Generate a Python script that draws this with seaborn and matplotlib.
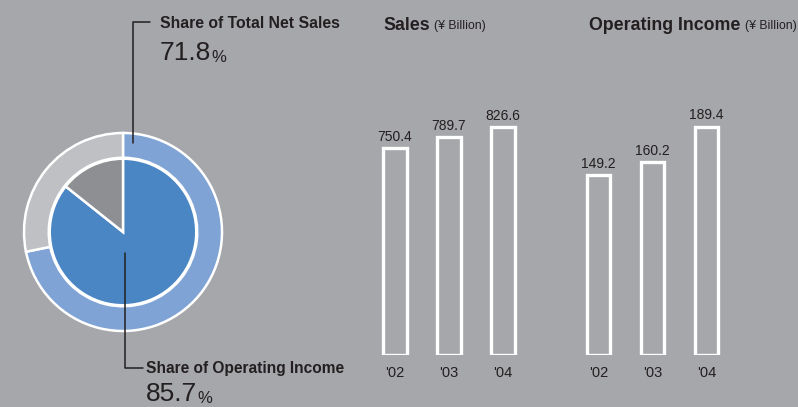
import numpy as np
import pandas as pd
import matplotlib
matplotlib.use("Agg")
import matplotlib.pyplot as plt
import seaborn as sns

# ---- data ----
years = ["'02", "'03", "'04"]
sales = [750.4, 789.7, 826.6]
op_income = [149.2, 160.2, 189.4]
net_sales_share = [71.8, 100 - 71.8]
op_income_share = [85.7, 100 - 85.7]

BG = "#a6a7ab"
TXT = "#231f20"
sns.set_theme(style="white")
plt.rcParams["font.family"] = ["Liberation Sans Narrow", "Liberation Sans", "DejaVu Sans"]

W, H = 798, 407
fig = plt.figure(figsize=(W / 100, H / 100), dpi=100, facecolor=BG)


def px_axes(left, top, width, height):
    # pixel box (from top-left) -> figure fraction axes
    return fig.add_axes([left / W, (H - top - height) / H, width / W, height / H])


# ---- donut ----
axp = px_axes(23, 132, 200, 200)
axp.set_facecolor("none")
axp.pie(net_sales_share, radius=1.0, startangle=90, counterclock=False,
        colors=["#7fa3d5", "#bfc0c4"],
        wedgeprops=dict(width=0.25, edgecolor="white", linewidth=1.8))
axp.pie(op_income_share, radius=0.74, startangle=90, counterclock=False,
        colors=["#4a86c4", "#8e8f93"],
        wedgeprops=dict(edgecolor="white", linewidth=1.8))
axp.set_xlim(-1.01, 1.01)
axp.set_ylim(-1.01, 1.01)
axp.set_aspect("equal")
axp.axis("off")

# leader lines (figure pixel coords)
lines = fig.add_axes([0, 0, 1, 1], facecolor="none")
lines.set_xlim(0, W)
lines.set_ylim(H, 0)
lines.axis("off")
lines.plot([133, 133, 150], [143, 22, 22], color=TXT, lw=1.1)
lines.plot([125, 125, 143], [253, 368, 368], color=TXT, lw=1.1)

fig.text(160 / W, 1 - 24 / H, "Share of Total Net Sales", fontsize=11.3,
         fontweight="bold", color=TXT, va="center")
n1 = fig.text(160 / W, 1 - 53 / H, "71.8", fontsize=19, color=TXT, va="center")
lines.annotate("%", xy=(1, 0), xycoords=n1, xytext=(0, 0),
               textcoords="offset points", fontsize=12, color=TXT, va="bottom")

fig.text(146 / W, 1 - 368 / H, "Share of Operating Income", fontsize=11.2,
         fontweight="bold", color=TXT, va="center")
n2 = fig.text(146 / W, 1 - 394 / H, "85.7", fontsize=19, color=TXT, va="center")
lines.annotate("%", xy=(1, 0), xycoords=n2, xytext=(0, 0),
               textcoords="offset points", fontsize=12, color=TXT, va="bottom")


# ---- bar charts ----
def bar_panel(left, values, ymax):
    ax = px_axes(left, 355 - 240, 162, 240)
    ax.set_facecolor("none")
    df = pd.DataFrame({"year": years, "value": values})
    sns.barplot(data=df, x="year", y="value", ax=ax, fill=False,
                color="white", edgecolor="white", linewidth=2.4, width=0.44)
    ax.set_xlim(-0.5, 2.5)
    ax.set_ylim(0, ymax)
    for c in ax.containers:
        ax.bar_label(c, fmt="%.1f", padding=3, fontsize=10, color=TXT)
    sns.despine(ax=ax, left=True, bottom=True)
    ax.set_yticks([])
    ax.set_xlabel("")
    ax.set_ylabel("")
    ax.tick_params(axis="x", length=0, pad=8, labelsize=10.5, labelcolor=TXT)
    return ax


bar_panel(368, sales, 870)
bar_panel(571.5, op_income, 199)

s = fig.text(383 / W, 1 - 26 / H, "Sales", fontsize=12.8, fontweight="bold",
             color=TXT, va="center")
lines.annotate("(¥ Billion)", xy=(1, 0.5), xycoords=s, xytext=(3.5, 0),
               textcoords="offset points", fontsize=8.8, color=TXT, va="center")
o = fig.text(589 / W, 1 - 26 / H, "Operating Income", fontsize=12.8, fontweight="bold",
             color=TXT, va="center")
lines.annotate("(¥ Billion)", xy=(1, 0.5), xycoords=o, xytext=(3.5, 0),
               textcoords="offset points", fontsize=8.8, color=TXT, va="center")

fig.savefig("out.png", dpi=100, facecolor=BG)
